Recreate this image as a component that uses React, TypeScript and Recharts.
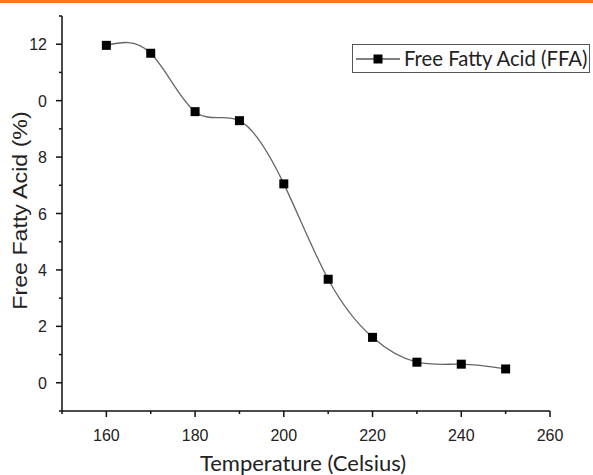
import { Legend, Line, LineChart, XAxis, YAxis } from "recharts";

const temps = [160, 170, 180, 190, 200, 210, 220, 230, 240, 250];
const ffaValues = [11.96, 11.68, 9.61, 9.29, 7.05, 3.67, 1.61, 0.73, 0.66, 0.49];

const xTicks = [150, 160, 170, 180, 190, 200, 210, 220, 230, 240, 250, 260];
const xTickLabels = ["", "160", "", "180", "", "200", "", "220", "", "240", "", "260"];
const yTicks = [-1, 0, 1, 2, 3, 4, 5, 6, 7, 8, 9, 10, 11, 12, 13];
const yTickLabels = ["", "0", "", "2", "", "4", "", "6", "", "8", "", "0", "", "12", ""];

const seriesName = "Free Fatty Acid (FFA)";
const xTitle = "Temperature (Celsius)";
const yTitle = "Free Fatty Acid (%)";

const data = temps.map((t, i) => ({ temp: t, ffa: ffaValues[i] }));

const TICK_FONT = "'Liberation Sans', Arial, sans-serif";
const TITLE_FONT = "Lato, 'Open Sans', sans-serif";

function XTick({ x, y, payload }: any) {
  const idx = xTicks.indexOf(payload.value);
  const label = xTickLabels[idx] ?? "";
  return (
    <g>
      <line x1={x} x2={x} y1={y} y2={y + (label ? 6 : 3)} stroke="#111" strokeWidth={1.5} />
      {label && (
        <text x={x} y={y + 30} textAnchor="middle" fontSize={16} fontFamily={TICK_FONT} fill="#222">
          {label}
        </text>
      )}
    </g>
  );
}

function YTick({ x, y, payload }: any) {
  const idx = yTicks.indexOf(payload.value);
  const label = yTickLabels[idx] ?? "";
  return (
    <g>
      <line x1={x} x2={x - (label ? 6 : 3)} y1={y} y2={y} stroke="#111" strokeWidth={1.5} />
      {label && (
        <text x={x - 15} y={y + 6} textAnchor="end" fontSize={16} fontFamily={TICK_FONT} fill="#222">
          {label}
        </text>
      )}
    </g>
  );
}

function SquareDot({ cx, cy, index }: any) {
  if (cx == null || cy == null) return null;
  return <rect key={index} x={cx - 4.5} y={cy - 4.5} width={9} height={9} fill="#000" />;
}

function LegendBox({ payload }: any) {
  const item = payload && payload[0];
  return (
    <svg width={238} height={30} style={{ display: "block" }}>
      <rect x={0.5} y={0.5} width={237} height={28} fill="#fff" stroke="#555" strokeWidth={1} />
      <line x1={4} x2={48} y1={15} y2={15} stroke="#555" strokeWidth={1.3} />
      <rect x={21.5} y={10.5} width={9} height={9} fill="#000" />
      <text x={52} y={22} fontSize={20.3} fontFamily={TITLE_FONT} fill="#222">
        {item ? item.value : seriesName}
      </text>
    </svg>
  );
}

function YTitle({ viewBox }: any) {
  const cy = viewBox.y + viewBox.height / 2 - 3;
  return (
    <text
      x={0}
      y={0}
      transform={`translate(27, ${cy}) rotate(-90) scale(1.16, 1)`}
      textAnchor="middle"
      fontSize={20}
      fontFamily={TICK_FONT}
      fill="#222"
    >
      {yTitle}
    </text>
  );
}

function XTitle({ viewBox }: any) {
  const cx = viewBox.x + viewBox.width / 2 - 3;
  return (
    <text x={cx} y={471} textAnchor="middle" fontSize={22} fontFamily={TITLE_FONT} fill="#222">
      {xTitle}
    </text>
  );
}

export default function App() {
  return (
    <div style={{ position: "absolute", left: 0, top: 0, width: 593, height: 475, background: "#fff" }}>
      <div style={{ position: "absolute", left: 0, top: 0, width: 593, height: 3, background: "#F37A22" }} />
      <LineChart width={593} height={475} data={data} margin={{ top: 16, right: 43, left: 0, bottom: 0 }}>
        <XAxis
          dataKey="temp"
          type="number"
          domain={[150, 260]}
          ticks={xTicks}
          interval={0}
          tickSize={0}
          tickMargin={0}
          tickLine={false}
          tick={<XTick />}
          height={64}
          axisLine={{ stroke: "#111", strokeWidth: 1.5 }}
          label={<XTitle />}
        />
        <YAxis
          type="number"
          domain={[-1, 13]}
          ticks={yTicks}
          interval={0}
          tickSize={0}
          tickMargin={0}
          tickLine={false}
          tick={<YTick />}
          width={62}
          axisLine={{ stroke: "#111", strokeWidth: 1.5 }}
          label={<YTitle />}
        />
        <Legend
          layout="horizontal"
          verticalAlign="middle"
          align="center"
          content={<LegendBox />}
          wrapperStyle={{ position: "absolute", left: 352, top: 44, width: 238, height: 30 }}
        />
        <Line
          type="natural"
          dataKey="ffa"
          name={seriesName}
          stroke="#666"
          strokeWidth={1.3}
          dot={<SquareDot />}
          activeDot={false}
          isAnimationActive={false}
        />
      </LineChart>
    </div>
  );
}
